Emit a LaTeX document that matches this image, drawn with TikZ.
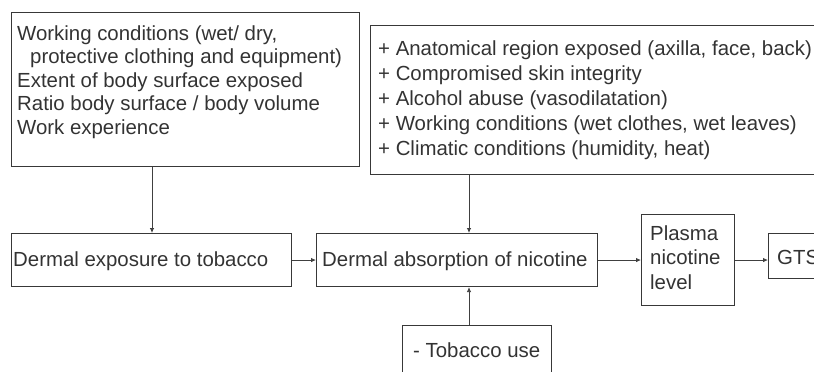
\documentclass[tikz,border=0pt]{standalone}
\usepackage{fontspec}
\setmainfont{Liberation Sans}
\usetikzlibrary{arrows.meta,calc}
\begin{document}
\begin{tikzpicture}[x=1pt,y=1pt,
  box/.style={draw=black!78,line width=1.1pt,rectangle,inner sep=0pt,anchor=north west},
  txt/.style={anchor=base west,inner sep=0pt,align=left,text=black!80,
    font=\fontsize{20.4}{23.5}\selectfont},
  txtb/.style={txt,font=\fontsize{20.4}{25}\selectfont},
  arr/.style={draw=black!75,line width=0.8pt,-{Latex[length=5pt,width=4.5pt]}}]
\clip (0,0) rectangle (814,-372);
\useasboundingbox (0,0) rectangle (814,-372);
% boxes
\node[box,minimum width=348pt,minimum height=154pt] (b1) at (11,-12) {};
\node[box,minimum width=460pt,minimum height=149pt] (b2) at (370,-25) {};
\node[box,minimum width=280pt,minimum height=53pt] (b3) at (11,-233) {};
\node[box,minimum width=281pt,minimum height=53pt] (b4) at (316,-233) {};
\node[box,minimum width=93pt,minimum height=91pt] (b5) at (641,-214) {};
\node[box,minimum width=62pt,minimum height=45pt] (b6) at (768,-233) {};
\node[box,minimum width=149pt,minimum height=65pt] (b7) at (402,-325) {};
% texts (base anchor = baseline of last line)
\node[txt] (t1) at (17,-134) {Working conditions (wet/ dry,\\\hspace*{13pt}protective clothing and equipment)\\Extent of body surface exposed\\Ratio body surface / body volume\\Work experience};
\node[txtb] (t2) at (378,-155) {+ Anatomical region exposed (axilla, face, back)\\+ Compromised skin integrity\\+ Alcohol abuse (vasodilatation)\\+ Working conditions (wet clothes, wet leaves)\\+ Climatic conditions (humidity, heat)};
\node[txt] (t3) at (13,-266) {Dermal exposure to tobacco};
\node[txt] (t4) at (322,-266) {Dermal absorption of nicotine};
\node[txt,font=\fontsize{20.4}{24.5}\selectfont] (t5) at (650,-289) {Plasma\\nicotine\\level};
\node[txt] (t6) at (777,-264) {GTS};
\node[txt] (t7) at (413,-357) {- Tobacco use};
% connectors
\coordinate (c1) at (152,0);
\coordinate (c2) at (469,0);
\draw[arr] (b1.south -| c1) -- (b3.north -| c1);
\draw[arr] (b2.south -| c2) -- (b4.north -| c2);
\draw[arr] (b7.north -| c2) -- (b4.south -| c2);
\draw[arr] (b3.east) -- (b4.west);
\draw[arr] (b4.east) -- (b5.west |- b4.east);
\draw[arr] (b5.east |- b4.east) -- (b6.west |- b4.east);
\end{tikzpicture}
\end{document}
